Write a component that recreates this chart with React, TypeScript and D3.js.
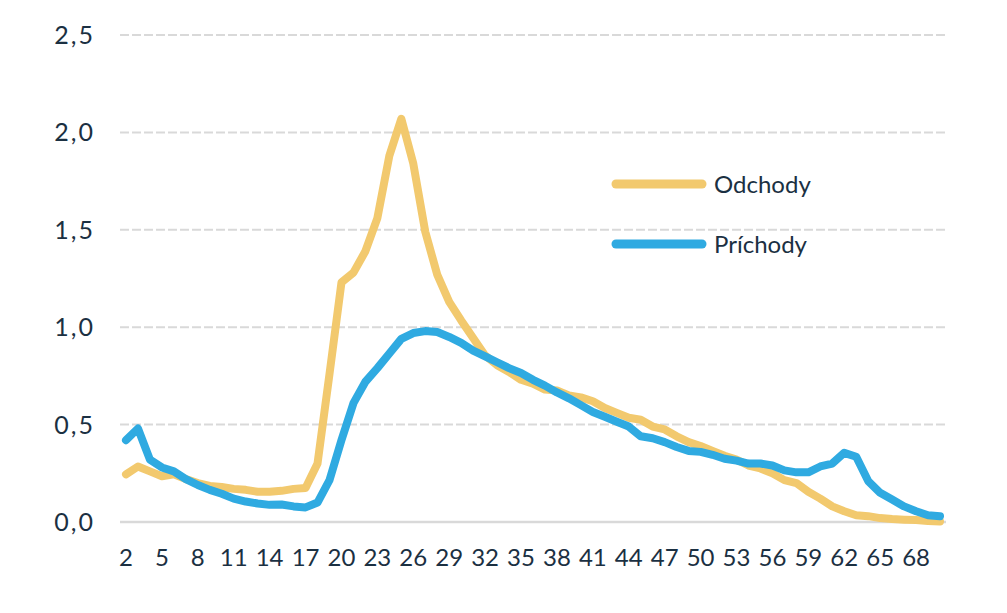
import React, { useEffect, useRef } from 'react';
import * as d3 from 'd3';

// age categories 2..70
const categories: number[] = d3.range(2, 71);

const odchody: number[] = [
  0.245, 0.285, 0.26, 0.235, 0.245, 0.22, 0.2, 0.185, 0.18, 0.17,
  0.165, 0.155, 0.155, 0.16, 0.17, 0.175, 0.3, 0.76, 1.23, 1.28,
  1.39, 1.56, 1.88, 2.07, 1.84, 1.49, 1.27, 1.13, 1.035, 0.945,
  0.855, 0.805, 0.77, 0.73, 0.71, 0.68, 0.675, 0.65, 0.64, 0.62,
  0.585, 0.56, 0.535, 0.525, 0.49, 0.475, 0.44, 0.41, 0.39, 0.365,
  0.34, 0.32, 0.29, 0.275, 0.25, 0.215, 0.2, 0.155, 0.12, 0.08,
  0.055, 0.035, 0.03, 0.02, 0.015, 0.012, 0.01, 0.005, 0.003,
];

const prichody: number[] = [
  0.42, 0.48, 0.32, 0.28, 0.26, 0.22, 0.19, 0.165, 0.145, 0.12,
  0.105, 0.095, 0.088, 0.09, 0.08, 0.075, 0.1, 0.215, 0.42, 0.61,
  0.72, 0.79, 0.865, 0.94, 0.97, 0.98, 0.975, 0.95, 0.92, 0.88,
  0.85, 0.82, 0.79, 0.765, 0.73, 0.7, 0.665, 0.635, 0.6, 0.565,
  0.54, 0.515, 0.49, 0.44, 0.43, 0.41, 0.385, 0.365, 0.36, 0.345,
  0.325, 0.315, 0.3, 0.3, 0.29, 0.265, 0.255, 0.255, 0.285, 0.3,
  0.355, 0.335, 0.21, 0.15, 0.115, 0.08, 0.055, 0.035, 0.03,
];

const yTicks: number[] = [0, 0.5, 1, 1.5, 2, 2.5];
const xTicks: number[] = categories.filter((_, i) => i % 3 === 0);

const seriesNames = ['Odchody', 'Príchody'];
const seriesColors = ['#F2C96E', '#2FAAE1'];

const fmt = (v: number) => v.toFixed(1).replace('.', ',');

export default function App() {
  const svgRef = useRef<SVGSVGElement | null>(null);

  useEffect(() => {
    if (!svgRef.current) return;
    const svg = d3.select(svgRef.current);
    svg.selectAll('*').remove();

    const width = 1007;
    const height = 613;
    const left = 120;
    const right = 946;
    const top = 35;
    const bottom = 522;
    const textColor = '#1B3042';
    const font = 'Lato, "Open Sans", sans-serif';

    svg.attr('width', width).attr('height', height);

    const x = d3.scalePoint<number>()
      .domain(categories)
      .range([left, right])
      .padding(0.5);

    const y = d3.scaleLinear()
      .domain([0, 2.5])
      .range([bottom, top]);

    // gridlines
    svg.append('g')
      .selectAll('line')
      .data(yTicks.filter(t => t > 0))
      .join('line')
      .attr('x1', left)
      .attr('x2', right)
      .attr('y1', d => y(d))
      .attr('y2', d => y(d))
      .attr('stroke', '#D9D9D9')
      .attr('stroke-width', 2)
      .attr('stroke-dasharray', '9,3');

    // baseline
    svg.append('line')
      .attr('x1', left)
      .attr('x2', right)
      .attr('y1', y(0))
      .attr('y2', y(0))
      .attr('stroke', '#D9D9D9')
      .attr('stroke-width', 2.5);

    // y labels
    svg.append('g')
      .selectAll('text')
      .data(yTicks)
      .join('text')
      .attr('x', 95)
      .attr('y', d => y(d))
      .attr('dy', '0.36em')
      .attr('text-anchor', 'end')
      .attr('font-family', font)
      .attr('font-size', 25)
      .attr('letter-spacing', 2)
      .attr('fill', textColor)
      .text(d => fmt(d));

    // x labels
    svg.append('g')
      .selectAll('text')
      .data(xTicks)
      .join('text')
      .attr('x', d => x(d) || 0)
      .attr('y', 566)
      .attr('text-anchor', 'middle')
      .attr('font-family', font)
      .attr('font-size', 24)
      .attr('fill', textColor)
      .text(d => String(d));

    const line = d3.line<number>()
      .x((_, i) => x(categories[i]) || 0)
      .y(d => y(d))
      .curve(d3.curveLinear);

    [odchody, prichody].forEach((values, i) => {
      svg.append('path')
        .datum(values)
        .attr('fill', 'none')
        .attr('stroke', seriesColors[i])
        .attr('stroke-width', 8)
        .attr('stroke-linejoin', 'round')
        .attr('stroke-linecap', 'round')
        .attr('d', line);
    });

    // legend
    const legend = svg.append('g');
    seriesNames.forEach((name, i) => {
      const ly = 184 + i * 60;
      legend.append('line')
        .attr('x1', 616)
        .attr('x2', 702)
        .attr('y1', ly)
        .attr('y2', ly)
        .attr('stroke', seriesColors[i])
        .attr('stroke-width', 9)
        .attr('stroke-linecap', 'round');
      legend.append('text')
        .attr('x', 714)
        .attr('y', ly)
        .attr('dy', '0.36em')
        .attr('font-family', font)
        .attr('font-size', 24)
        .attr('fill', textColor)
        .text(name);
    });
  }, []);

  return (
    <div style={{ position: 'fixed', left: 0, top: 0, width: 1007, height: 613, background: '#fff' }}>
      <svg ref={svgRef} style={{ display: 'block' }} />
    </div>
  );
}
